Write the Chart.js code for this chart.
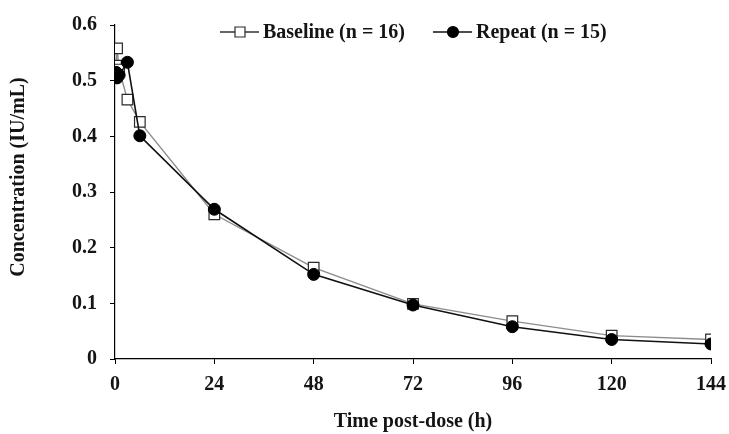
<!DOCTYPE html>
<html>
<head>
<meta charset="utf-8">
<script src="https://cdn.jsdelivr.net/npm/chart.js@4"></script>
<style>
  html, body { margin: 0; padding: 0; background: #fff; }
  #chart { display: block; }
</style>
</head>
<body>
<canvas id="chart" width="729" height="434"></canvas>
<script>
// sampling times (h)
const times = [0.25, 0.5, 1, 3, 6, 24, 48, 72, 96, 120, 144];
const baseline = [0.527, 0.558, 0.52, 0.466, 0.426, 0.26, 0.164, 0.099, 0.068, 0.042, 0.035];
const repeat = [0.515, 0.505, 0.51, 0.533, 0.401, 0.269, 0.152, 0.097, 0.058, 0.035, 0.027];
const seriesNames = ['Baseline (n = 16)', 'Repeat (n = 15)'];
const xTicks = [0, 24, 48, 72, 96, 120, 144];
const yTicks = [0, 0.1, 0.2, 0.3, 0.4, 0.5, 0.6];
const yTitle = 'Concentration (IU/mL)';

const FONT = '"Liberation Serif", "Times New Roman", serif';
const TXT = '#141414';

function pts(vals) {
    return times.map((t, i) => ({ x: t, y: vals[i] }));
}

// legend drawn as line + marker inside the plot top, plus the y title
const legendPlugin = {
    id: 'lineLegend',
    afterDraw(chart) {
        const ctx = chart.ctx;
        const area = chart.chartArea;
        const y = area.top + 7;
        let x = area.left + 105;
        ctx.save();
        ctx.font = 'bold 20px ' + FONT;
        ctx.textBaseline = 'middle';
        chart.data.datasets.forEach(ds => {
            ctx.strokeStyle = ds.pointStyle === 'rect' ? '#333' : ds.borderColor;
            ctx.lineWidth = 1.5;
            ctx.beginPath();
            ctx.moveTo(x, y);
            ctx.lineTo(x + 39, y);
            ctx.stroke();
            const mx = x + 20;
            ctx.lineWidth = 1.2;
            ctx.fillStyle = ds.pointBackgroundColor;
            ctx.strokeStyle = ds.pointBorderColor;
            ctx.beginPath();
            if (ds.pointStyle === 'rect') {
                ctx.rect(mx - 5, y - 5, 10, 10);
            } else {
                ctx.arc(mx, y, 5.5, 0, Math.PI * 2);
            }
            ctx.fill();
            ctx.stroke();
            ctx.fillStyle = TXT;
            ctx.fillText(ds.label, x + 43, y + 1);
            x += 43 + ctx.measureText(ds.label).width + 28;
        });

        // y axis title, sits a bit above the plot centre in the original
        ctx.translate(19, (area.top + area.bottom) / 2 - 15);
        ctx.rotate(-Math.PI / 2);
        ctx.textAlign = 'center';
        ctx.fillText(yTitle, 0, 0);
        ctx.restore();
    }
};

function initChart() {
    const ctx = document.getElementById('chart').getContext('2d');
    new Chart(ctx, {
        type: 'line',
        data: {
            datasets: [{
                label: seriesNames[0],
                data: pts(baseline),
                borderColor: '#8c8c8c',
                borderWidth: 1.4,
                pointStyle: 'rect',
                pointRadius: 7.5,
                pointBorderWidth: 1.2,
                pointBackgroundColor: '#fff',
                pointBorderColor: '#2a2a2a',
                tension: 0,
                order: 2
            }, {
                label: seriesNames[1],
                data: pts(repeat),
                borderColor: '#111',
                borderWidth: 1.6,
                pointStyle: 'circle',
                pointRadius: 6,
                pointBorderWidth: 1,
                pointBackgroundColor: '#000',
                pointBorderColor: '#000',
                tension: 0,
                order: 1
            }]
        },
        options: {
            responsive: false,
            animation: false,
            devicePixelRatio: 1,
            layout: { padding: { left: 0, right: 18, top: 15, bottom: 0 } },
            plugins: {
                legend: { display: false },
                tooltip: { enabled: false }
            },
            scales: {
                x: {
                    type: 'linear',
                    min: 0,
                    max: 144,
                    afterFit: s => { s.height = 75; s.paddingRight = 0; },
                    afterBuildTicks: s => { s.ticks = xTicks.map(v => ({ value: v })); },
                    grid: { drawOnChartArea: false, drawTicks: true, tickLength: 5, color: '#000' },
                    border: { color: '#000', width: 1.2 },
                    ticks: { color: TXT, padding: 9, maxRotation: 0, font: { family: FONT, size: 20, weight: 'bold' } },
                    title: {
                        display: true,
                        text: 'Time post-dose (h)',
                        color: TXT,
                        padding: { top: 0, bottom: 1 },
                        font: { family: FONT, size: 20, weight: 'bold', lineHeight: 1.1 }
                    }
                },
                y: {
                    min: 0,
                    max: 0.6,
                    afterFit: s => { s.width = 115; },
                    afterBuildTicks: s => { s.ticks = yTicks.map(v => ({ value: v })); },
                    grid: { drawOnChartArea: false, drawTicks: true, tickLength: 5, color: '#000' },
                    border: { color: '#000', width: 1.2 },
                    ticks: { color: TXT, padding: 13, font: { family: FONT, size: 20, weight: 'bold' } },
                    title: { display: false }
                }
            }
        },
        plugins: [legendPlugin]
    });
}

window.onload = initChart;
</script>
</body>
</html>
